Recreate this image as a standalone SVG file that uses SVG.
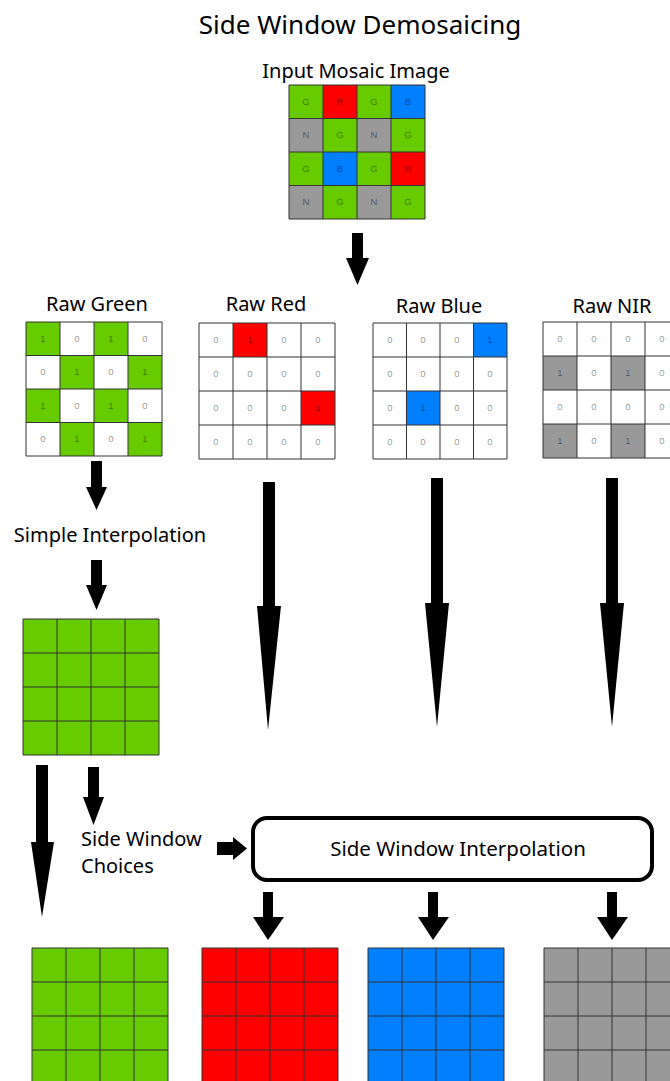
<svg xmlns="http://www.w3.org/2000/svg" width="670" height="1081" viewBox="0 0 670 1081">
  <style>
    .title { font-family: "Noto Sans", "Open Sans", sans-serif; font-size: 26px; fill: #000; }
    .label { font-family: "Noto Sans", "Open Sans", sans-serif; font-size: 20px; fill: #000; }
    .cell { font-family: "Liberation Sans", Arial, sans-serif; font-size: 9.5px; fill: #000; fill-opacity: 0.45; text-anchor: middle; }
    .grid { fill: none; stroke: #333; stroke-width: 1; }
    .g { fill: #66cc00; }
    .r { fill: #ff0000; }
    .b { fill: #007fff; }
    .n { fill: #999999; }
    .w { fill: #ffffff; }
    .arrow { fill: #000; }
  </style>

  <rect x="0" y="0" width="670" height="1081" fill="#ffffff"/>

  <text class="title" x="360" y="34" text-anchor="middle">Side Window Demosaicing</text>

  <!-- Input mosaic -->
  <g id="input-mosaic">
    <text class="label" x="356" y="78" text-anchor="middle">Input Mosaic Image</text>
    <rect class="g" x="289" y="85" width="34" height="33.5"/>
    <rect class="r" x="323" y="85" width="34" height="33.5"/>
    <rect class="g" x="357" y="85" width="34" height="33.5"/>
    <rect class="b" x="391" y="85" width="34" height="33.5"/>
    <rect class="n" x="289" y="118.5" width="34" height="33.5"/>
    <rect class="g" x="323" y="118.5" width="34" height="33.5"/>
    <rect class="n" x="357" y="118.5" width="34" height="33.5"/>
    <rect class="g" x="391" y="118.5" width="34" height="33.5"/>
    <rect class="g" x="289" y="152" width="34" height="33.5"/>
    <rect class="b" x="323" y="152" width="34" height="33.5"/>
    <rect class="g" x="357" y="152" width="34" height="33.5"/>
    <rect class="r" x="391" y="152" width="34" height="33.5"/>
    <rect class="n" x="289" y="185.5" width="34" height="33.5"/>
    <rect class="g" x="323" y="185.5" width="34" height="33.5"/>
    <rect class="n" x="357" y="185.5" width="34" height="33.5"/>
    <rect class="g" x="391" y="185.5" width="34" height="33.5"/>
    <path class="grid" d="M289 85H425V219H289Z M323 85V219 M357 85V219 M391 85V219 M289 118.5H425 M289 152H425 M289 185.5H425"/>
    <text class="cell" x="306" y="105">G</text><text class="cell" x="340" y="105">R</text><text class="cell" x="374" y="105">G</text><text class="cell" x="408" y="105">B</text>
    <text class="cell" x="306" y="138">N</text><text class="cell" x="340" y="138">G</text><text class="cell" x="374" y="138">N</text><text class="cell" x="408" y="138">G</text>
    <text class="cell" x="306" y="172">G</text><text class="cell" x="340" y="172">B</text><text class="cell" x="374" y="172">G</text><text class="cell" x="408" y="172">R</text>
    <text class="cell" x="306" y="205">N</text><text class="cell" x="340" y="205">G</text><text class="cell" x="374" y="205">N</text><text class="cell" x="408" y="205">G</text>
  </g>

  <!-- Raw green -->
  <g id="raw-green">
    <text class="label" x="97" y="311" text-anchor="middle">Raw Green</text>
    <rect class="w" x="26" y="322" width="136" height="134"/>
    <rect class="g" x="26" y="322" width="34" height="33.5"/>
    <rect class="g" x="94" y="322" width="34" height="33.5"/>
    <rect class="g" x="60" y="355.5" width="34" height="33.5"/>
    <rect class="g" x="128" y="355.5" width="34" height="33.5"/>
    <rect class="g" x="26" y="389" width="34" height="33.5"/>
    <rect class="g" x="94" y="389" width="34" height="33.5"/>
    <rect class="g" x="60" y="422.5" width="34" height="33.5"/>
    <rect class="g" x="128" y="422.5" width="34" height="33.5"/>
    <path class="grid" d="M26 322H162V456H26Z M60 322V456 M94 322V456 M128 322V456 M26 355.5H162 M26 389H162 M26 422.5H162"/>
    <text class="cell" x="43" y="342">1</text><text class="cell" x="77" y="342">0</text><text class="cell" x="111" y="342">1</text><text class="cell" x="145" y="342">0</text>
    <text class="cell" x="43" y="375">0</text><text class="cell" x="77" y="375">1</text><text class="cell" x="111" y="375">0</text><text class="cell" x="145" y="375">1</text>
    <text class="cell" x="43" y="409">1</text><text class="cell" x="77" y="409">0</text><text class="cell" x="111" y="409">1</text><text class="cell" x="145" y="409">0</text>
    <text class="cell" x="43" y="442">0</text><text class="cell" x="77" y="442">1</text><text class="cell" x="111" y="442">0</text><text class="cell" x="145" y="442">1</text>
  </g>

  <!-- Raw red -->
  <g id="raw-red">
    <text class="label" x="266" y="311" text-anchor="middle">Raw Red</text>
    <rect class="w" x="199" y="323" width="136" height="136"/>
    <rect class="r" x="233" y="323" width="34" height="34"/>
    <rect class="r" x="301" y="391" width="34" height="34"/>
    <path class="grid" d="M199 323H335V459H199Z M233 323V459 M267 323V459 M301 323V459 M199 357H335 M199 391H335 M199 425H335"/>
    <text class="cell" x="216" y="343">0</text><text class="cell" x="250" y="343">1</text><text class="cell" x="284" y="343">0</text><text class="cell" x="318" y="343">0</text>
    <text class="cell" x="216" y="377">0</text><text class="cell" x="250" y="377">0</text><text class="cell" x="284" y="377">0</text><text class="cell" x="318" y="377">0</text>
    <text class="cell" x="216" y="411">0</text><text class="cell" x="250" y="411">0</text><text class="cell" x="284" y="411">0</text><text class="cell" x="318" y="411">1</text>
    <text class="cell" x="216" y="445">0</text><text class="cell" x="250" y="445">0</text><text class="cell" x="284" y="445">0</text><text class="cell" x="318" y="445">0</text>
  </g>

  <!-- Raw blue -->
  <g id="raw-blue">
    <text class="label" x="439" y="313" text-anchor="middle">Raw Blue</text>
    <rect class="w" x="373" y="323" width="134" height="136"/>
    <rect class="b" x="473.5" y="323" width="33.5" height="34"/>
    <rect class="b" x="406.5" y="391" width="33.5" height="34"/>
    <path class="grid" d="M373 323H507V459H373Z M406.5 323V459 M440 323V459 M473.5 323V459 M373 357H507 M373 391H507 M373 425H507"/>
    <text class="cell" x="390" y="343">0</text><text class="cell" x="423" y="343">0</text><text class="cell" x="457" y="343">0</text><text class="cell" x="490" y="343">1</text>
    <text class="cell" x="390" y="377">0</text><text class="cell" x="423" y="377">0</text><text class="cell" x="457" y="377">0</text><text class="cell" x="490" y="377">0</text>
    <text class="cell" x="390" y="411">0</text><text class="cell" x="423" y="411">1</text><text class="cell" x="457" y="411">0</text><text class="cell" x="490" y="411">0</text>
    <text class="cell" x="390" y="445">0</text><text class="cell" x="423" y="445">0</text><text class="cell" x="457" y="445">0</text><text class="cell" x="490" y="445">0</text>
  </g>

  <!-- Raw NIR -->
  <g id="raw-nir">
    <text class="label" x="612" y="313" text-anchor="middle">Raw NIR</text>
    <rect class="w" x="543" y="322" width="136" height="136"/>
    <rect class="n" x="543" y="356" width="34" height="34"/>
    <rect class="n" x="611" y="356" width="34" height="34"/>
    <rect class="n" x="543" y="424" width="34" height="34"/>
    <rect class="n" x="611" y="424" width="34" height="34"/>
    <path class="grid" d="M543 322H679V458H543Z M577 322V458 M611 322V458 M645 322V458 M543 356H679 M543 390H679 M543 424H679"/>
    <text class="cell" x="560" y="342">0</text><text class="cell" x="594" y="342">0</text><text class="cell" x="628" y="342">0</text><text class="cell" x="662" y="342">0</text>
    <text class="cell" x="560" y="376">1</text><text class="cell" x="594" y="376">0</text><text class="cell" x="628" y="376">1</text><text class="cell" x="662" y="376">0</text>
    <text class="cell" x="560" y="410">0</text><text class="cell" x="594" y="410">0</text><text class="cell" x="628" y="410">0</text><text class="cell" x="662" y="410">0</text>
    <text class="cell" x="560" y="444">1</text><text class="cell" x="594" y="444">0</text><text class="cell" x="628" y="444">1</text><text class="cell" x="662" y="444">0</text>
  </g>

  <!-- Simple interpolation step -->
  <g id="simple-interpolation">
    <text class="label" x="110" y="542" text-anchor="middle">Simple Interpolation</text>
  </g>

  <g id="green-interpolated">
    <rect class="g" x="23" y="619" width="136" height="136"/>
    <path class="grid" d="M23 619H159V755H23Z M57 619V755 M91 619V755 M125 619V755 M23 653H159 M23 687H159 M23 721H159"/>
  </g>

  <!-- Side window choices -->
  <g id="side-window-choices">
    <text class="label" x="81" y="846">Side Window</text>
    <text class="label" x="81" y="873">Choices</text>
  </g>

  <!-- Side window interpolation box -->
  <g id="side-window-interpolation">
    <rect x="253" y="818" width="399" height="62" rx="14" ry="14" fill="#ffffff" stroke="#000" stroke-width="4"/>
    <text class="label" x="458" y="856" text-anchor="middle" style="font-size:20.5px">Side Window Interpolation</text>
  </g>

  <!-- Output planes -->
  <g id="out-green">
    <rect class="g" x="32" y="948" width="136" height="136"/>
    <path class="grid" d="M32 948H168V1084H32Z M66 948V1084 M100 948V1084 M134 948V1084 M32 982H168 M32 1016H168 M32 1050H168"/>
  </g>
  <g id="out-red">
    <rect class="r" x="202" y="948" width="136" height="136"/>
    <path class="grid" d="M202 948H338V1084H202Z M236 948V1084 M270 948V1084 M304 948V1084 M202 982H338 M202 1016H338 M202 1050H338"/>
  </g>
  <g id="out-blue">
    <rect class="b" x="368" y="948" width="136" height="136"/>
    <path class="grid" d="M368 948H504V1084H368Z M402 948V1084 M436 948V1084 M470 948V1084 M368 982H504 M368 1016H504 M368 1050H504"/>
  </g>
  <g id="out-nir">
    <rect class="n" x="544" y="948" width="136" height="136"/>
    <path class="grid" d="M544 948H680V1084H544Z M578 948V1084 M612 948V1084 M646 948V1084 M544 982H680 M544 1016H680 M544 1050H680"/>
  </g>

  <!-- Connectors -->
  <g id="connectors">
    <!-- mosaic to raw planes -->
    <polygon class="arrow" points="352,233 363,233 363,258 369,258 357.5,285 346,258 352,258"/>
    <!-- raw green to simple interpolation -->
    <polygon class="arrow" points="91,461 102,461 102,487 107,487 96.5,510 86,487 91,487"/>
    <!-- simple interpolation to green grid -->
    <polygon class="arrow" points="91,560 102,560 102,585 107,585 96.5,610 86,585 91,585"/>
    <!-- long arrows for red, blue, NIR -->
    <polygon class="arrow" points="263,482 275,482 275,606 281,606 268,730 257,606 263,606"/>
    <polygon class="arrow" points="431,478 443,478 443,603 449,603 437,727 425,603 431,603"/>
    <polygon class="arrow" points="606,478 618,478 618,603 624,603 612,727 600,603 606,603"/>
    <!-- green grid down to output -->
    <polygon class="arrow" points="36,765 48,765 48,842 54,842 42,917 31,842 36,842"/>
    <!-- green grid to side window choices -->
    <polygon class="arrow" points="88,767 99,767 99,797 104,797 93.5,825 83,797 88,797"/>
    <!-- choices into box -->
    <polygon class="arrow" points="217,842 233,842 233,837 247,848.5 233,860 233,855 217,855"/>
    <!-- box to outputs -->
    <polygon class="arrow" points="263,892 273,892 273,917 284,917 268,940 253,917 263,917"/>
    <polygon class="arrow" points="428,892 438,892 438,917 449,917 433,940 418,917 428,917"/>
    <polygon class="arrow" points="607,892 617,892 617,917 628,917 612,940 597,917 607,917"/>
  </g>
</svg>
